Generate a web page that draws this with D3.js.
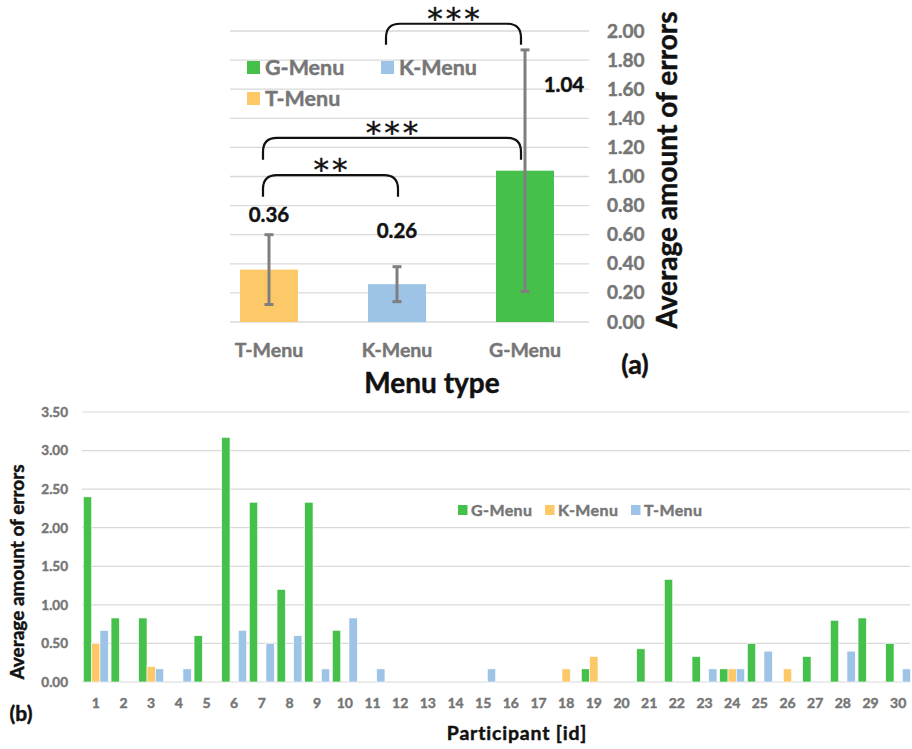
<!DOCTYPE html>
<html>
<head>
<meta charset="utf-8">
<script src="https://cdn.jsdelivr.net/npm/d3@7"></script>
<style>
  body { margin: 0; background: #fff; }
  svg { display: block; font-family: Lato, "Open Sans", sans-serif; font-weight: bold; }
  svg text { paint-order: stroke; stroke-width: 0.45px; stroke-linejoin: round; }
</style>
</head>
<body>
<svg id="chart" width="912" height="749"></svg>
<script>
// ---------- Data: panel (a) ----------
const menuTypes = ["T-Menu", "K-Menu", "G-Menu"];
const menuMeans = [0.36, 0.26, 1.04];
const menuErrors = [0.24, 0.12, 0.83];
const menuColorsA = ["#fdc968", "#9dc3e6", "#45c04b"];
const yTicksA = [0, 0.2, 0.4, 0.6, 0.8, 1.0, 1.2, 1.4, 1.6, 1.8, 2.0];
const brackets = [
  { from: "T-Menu", to: "K-Menu", top: 1.01, drop: 0.15, label: "**" },
  { from: "T-Menu", to: "G-Menu", top: 1.265, drop: 0.15, label: "***" },
  { from: "K-Menu", to: "G-Menu", top: 2.05, drop: 0.145, label: "***" }
];
const legendA = ["G-Menu", "K-Menu", "T-Menu"];

// ---------- Data: panel (b) ----------
const participants = d3.range(1, 31).map(String);
const seriesNames = ["G-Menu", "K-Menu", "T-Menu"];
const gMenu = [2.40, 0.83, 0.83, 0, 0.60, 3.17, 2.33, 1.20, 2.33, 0.67, 0, 0, 0, 0, 0, 0, 0, 0, 0.17, 0, 0.43, 1.33, 0.33, 0.17, 0.50, 0, 0.33, 0.80, 0.83, 0.50];
const kMenu = [0.50, 0, 0.20, 0, 0, 0, 0, 0, 0, 0, 0, 0, 0, 0, 0, 0, 0, 0.17, 0.33, 0, 0, 0, 0, 0.17, 0, 0.17, 0, 0, 0, 0];
const tMenu = [0.67, 0, 0.17, 0.17, 0, 0.67, 0.50, 0.60, 0.17, 0.83, 0.17, 0, 0, 0, 0.17, 0, 0, 0, 0, 0, 0, 0, 0.17, 0.17, 0.40, 0, 0, 0.40, 0, 0.17];
const seriesColorsB = ["#45c04b", "#fdc968", "#9dc3e6"];
const yTicksB = [0, 0.5, 1.0, 1.5, 2.0, 2.5, 3.0, 3.5];

const gray = "#767676";
const dark = "#111";
const gridColor = "#d9d9d9";
const svg = d3.select("#chart");

function styleText(sel, color, size) {
  sel.attr("fill", color).attr("stroke", color)
    .style("font-size", size).style("font-family", "Lato, sans-serif").style("font-weight", "bold");
  return sel;
}

// ================= Panel (a) =================
const ya = d3.scaleLinear().domain([0, 2]).range([322, 31]);
const xa = d3.scaleBand().domain(menuTypes).range([205, 589]).paddingInner(0.547).paddingOuter(0.2735);
const colorA = d3.scaleOrdinal().domain(menuTypes).range(menuColorsA);
const gA = svg.append("g");

// grid
gA.append("g").selectAll("line").data(yTicksA).join("line")
  .attr("x1", 230).attr("x2", 589)
  .attr("y1", d => ya(d)).attr("y2", d => ya(d))
  .attr("stroke", gridColor).attr("stroke-width", 1.3);

// right axis labels
const axisA = d3.axisRight(ya).tickValues(yTicksA).tickFormat(d3.format(".2f")).tickSize(0).tickPadding(0);
const axA = gA.append("g").attr("transform", "translate(607,0)").call(axisA);
axA.select(".domain").remove();
styleText(axA.selectAll("text"), gray, "19px");

// bars
const dataA = menuTypes.map((m, i) => ({ m, v: menuMeans[i], e: menuErrors[i] }));
gA.append("g").selectAll("rect").data(dataA).join("rect")
  .attr("x", d => xa(d.m)).attr("width", xa.bandwidth())
  .attr("y", d => ya(d.v)).attr("height", d => ya(0) - ya(d.v))
  .attr("fill", d => colorA(d.m));

// error bars
const eb = gA.append("g").attr("stroke", "#7f7f7f").attr("stroke-width", 3);
dataA.forEach(d => {
  const cx = xa(d.m) + xa.bandwidth() / 2;
  eb.append("line").attr("x1", cx).attr("x2", cx).attr("y1", ya(d.v - d.e)).attr("y2", ya(d.v + d.e));
  eb.append("line").attr("x1", cx - 4.5).attr("x2", cx + 4.5).attr("y1", ya(d.v - d.e)).attr("y2", ya(d.v - d.e));
  eb.append("line").attr("x1", cx - 4.5).attr("x2", cx + 4.5).attr("y1", ya(d.v + d.e)).attr("y2", ya(d.v + d.e));
});

// data labels
const labelPos = { "T-Menu": { dx: 0, val: 0.685 }, "K-Menu": { dx: 0, val: 0.58 }, "G-Menu": { dx: 39, val: 1.58 } };
styleText(gA.append("g").selectAll("text").data(dataA).join("text")
  .attr("x", d => xa(d.m) + xa.bandwidth() / 2 + labelPos[d.m].dx)
  .attr("y", d => ya(labelPos[d.m].val))
  .attr("text-anchor", "middle")
  .text(d => d.v.toFixed(2)), dark, "20.5px");

// brackets
const bg = gA.append("g");
brackets.forEach(b => {
  const x1 = xa(b.from) + xa.bandwidth() / 2 + (b.from === "K-Menu" ? -11 : -6);
  const x2 = xa(b.to) + xa.bandwidth() / 2 + (b.to === "G-Menu" ? -4 : 1);
  const yt = ya(b.top), yb = ya(b.top - b.drop);
  const r = 14;
  const p = `M${x1},${yb} L${x1},${yt + r} Q${x1},${yt} ${x1 + r},${yt} L${x2 - r},${yt} Q${x2},${yt} ${x2},${yt + r} L${x2},${yb}`;
  bg.append("path").attr("d", p).attr("fill", "none").attr("stroke", dark).attr("stroke-width", 2.2);
  bg.append("text").attr("x", (x1 + x2) / 2 + 1.5).attr("y", yt + 5)
    .attr("text-anchor", "middle").attr("fill", dark).attr("stroke", dark)
    .style("font-size", "31px").style("font-family", "'DejaVu Sans', sans-serif").style("font-weight", "normal")
    .style("letter-spacing", "3px")
    .text(b.label);
});

// legend (a)
const legA = gA.append("g");
const legAPos = [[247, 61], [381, 61], [247, 92]];
legendA.forEach((name, i) => {
  const [lx, ly] = legAPos[i];
  legA.append("rect").attr("x", lx).attr("y", ly).attr("width", 13).attr("height", 13).attr("fill", colorA(name));
  styleText(legA.append("text").attr("x", lx + 18).attr("y", ly + 13.5).text(name), gray, "21.5px");
});

// x labels
styleText(gA.append("g").selectAll("text").data(menuTypes).join("text")
  .attr("x", d => xa(d) + xa.bandwidth() / 2).attr("y", 357)
  .attr("text-anchor", "middle").text(d => d), gray, "19.5px");

styleText(gA.append("text").attr("x", 432).attr("y", 393).attr("text-anchor", "middle").text("Menu type"), dark, "28px");
styleText(gA.append("text").attr("x", 667).attr("y", 170).attr("text-anchor", "middle")
  .attr("transform", "rotate(-90,667,170)").attr("dy", "0.35em").text("Average amount of errors"), dark, "28px");
styleText(gA.append("text").attr("x", 635).attr("y", 374).attr("text-anchor", "middle").text("(a)"), dark, "27px");

// ================= Panel (b) =================
const yb = d3.scaleLinear().domain([0, 3.5]).range([682, 412]);
const x0 = d3.scaleBand().domain(participants).range([82, 912]).paddingInner(0.1).paddingOuter(0.05);
const x1 = d3.scaleBand().domain(seriesNames).range([0, x0.bandwidth()]);
const colorB = d3.scaleOrdinal().domain(seriesNames).range(seriesColorsB);
const gB = svg.append("g");

gB.append("g").selectAll("line").data(yTicksB).join("line")
  .attr("x1", 82).attr("x2", 910)
  .attr("y1", d => yb(d)).attr("y2", d => yb(d))
  .attr("stroke", gridColor).attr("stroke-width", 1.2);

const axisB = d3.axisLeft(yb).tickValues(yTicksB).tickFormat(d3.format(".2f")).tickSize(0).tickPadding(0);
const axB = gB.append("g").attr("transform", "translate(68,0)").call(axisB);
axB.select(".domain").remove();
styleText(axB.selectAll("text"), gray, "13.5px");

const seriesVals = [gMenu, kMenu, tMenu];
const dataB = [];
participants.forEach((p, i) => seriesNames.forEach((s, j) => dataB.push({ p, s, v: seriesVals[j][i] })));
gB.append("g").selectAll("rect").data(dataB.filter(d => d.v > 0)).join("rect")
  .attr("x", d => x0(d.p) + x1(d.s)).attr("width", x1.bandwidth())
  .attr("y", d => yb(d.v)).attr("height", d => yb(0) - yb(d.v))
  .attr("fill", d => colorB(d.s))
  .attr("stroke", "#fff").attr("stroke-width", 0.6);

const axisBX = d3.axisBottom(x0).tickSize(0).tickPadding(0);
const axBX = gB.append("g").attr("transform", "translate(0,698)").call(axisBX);
axBX.select(".domain").remove();
styleText(axBX.selectAll("text"), gray, "14px");

// legend (b)
const legBPos = [458, 545, 631];
seriesNames.forEach((name, i) => {
  gB.append("rect").attr("x", legBPos[i]).attr("y", 505).attr("width", 9.5).attr("height", 10).attr("fill", colorB(name));
  styleText(gB.append("text").attr("x", legBPos[i] + 13).attr("y", 515.5).style("letter-spacing", "0.4px").text(name), gray, "16px");
});

styleText(gB.append("text").attr("x", 517).attr("y", 740).attr("text-anchor", "middle")
  .style("letter-spacing", "0.8px").text("Participant [id]"), dark, "19.5px");
styleText(gB.append("text").attr("x", 17).attr("y", 572).attr("text-anchor", "middle")
  .attr("transform", "rotate(-90,17,572)").attr("dy", "0.35em").text("Average amount of errors"), dark, "19px");
styleText(gB.append("text").attr("x", 21).attr("y", 721).attr("text-anchor", "middle").text("(b)"), dark, "21px");
</script>
</body>
</html>
